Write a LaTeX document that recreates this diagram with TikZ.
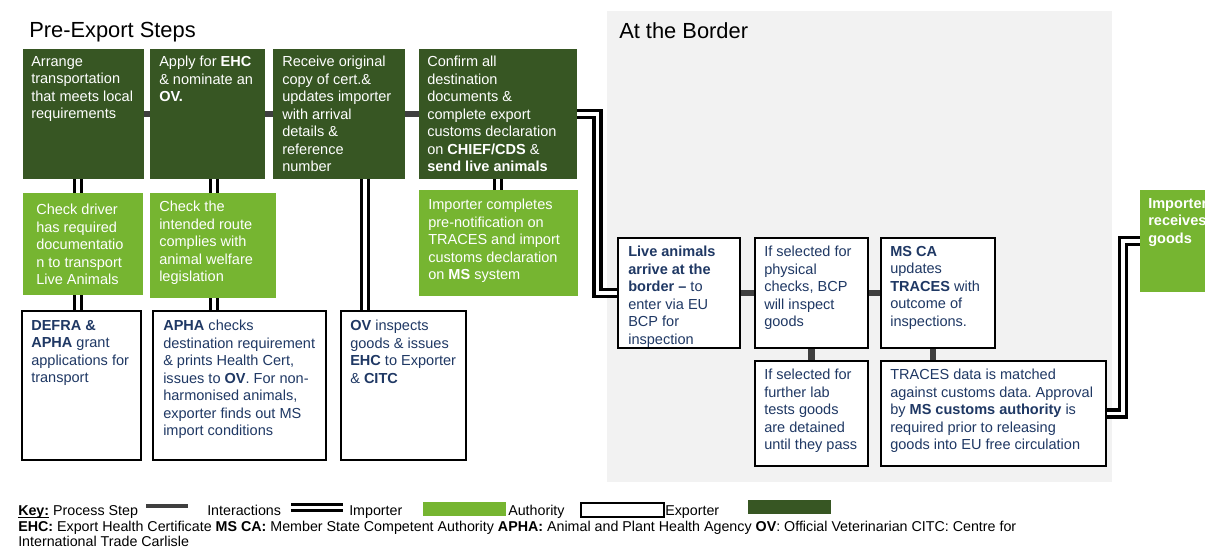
\documentclass[tikz,border=0pt]{standalone}
\usepackage{fontspec}
\setmainfont{Liberation Sans}
\usetikzlibrary{calc,backgrounds}
\frenchspacing

\definecolor{exportgreen}{HTML}{375623}
\definecolor{importgreen}{HTML}{76B531}
\definecolor{authnavy}{HTML}{1F3864}
\definecolor{borderbg}{HTML}{F2F2F2}
\definecolor{stepgray}{HTML}{3F3F3F}

\newcommand{\cellfont}{\fontsize{10.9}{13.1}\selectfont}
\newcommand{\headfont}{\fontsize{16.4}{19.7}\selectfont}
\newcommand{\keyfont}{\fontsize{10.7}{12}\selectfont}

\tikzset{
  box/.style 2 args={anchor=north west, inner sep=0pt, outer sep=0pt,
    minimum width=#1*0.75pt, minimum height=#2*0.75pt},
  exporter/.style={fill=exportgreen},
  importer/.style={fill=importgreen},
  authority/.style={fill=white, draw=black, line width=1.8pt},
  celltext/.style 2 args={anchor=north west, align=left, font=\cellfont,
    inner xsep=#1*0.75pt, inner ysep=#2*0.75pt},
  process/.style={draw=stepgray, line width=5pt},
  interact/.style={draw=black, line width=2.6pt, double=white, double distance=2.6pt},
  keytext/.style={anchor=base west, inner sep=0pt, font=\keyfont},
  swatch/.style={anchor=north west, inner sep=0pt, minimum width=83*0.75pt, minimum height=14*0.75pt}
}

\begin{document}
\begin{tikzpicture}[x=0.75pt, y=-0.75pt]
  \useasboundingbox (0,0) rectangle (1205,551);

  % Section titles
  \node[anchor=base west, inner sep=0pt, font=\headfont] (pretitle) at (29,37.5) {Pre-Export Steps};
  \node[anchor=base west, inner sep=0pt, font=\headfont] (bordertitle) at (619,38) {At the Border};

  % Exporter steps
  \node[box={121}{130}, exporter, label={[celltext={8}{7}, text=white]north west:{Arrange\\transportation\\that meets local\\requirements}}] (arrange) at (23,49) {};
  \node[box={115}{130}, exporter, label={[celltext={9}{7}, text=white]north west:{Apply for \textbf{EHC}\\\& nominate an\\\textbf{OV.}}}] (applyehc) at (150,49) {};
  \node[box={132}{130}, exporter, label={[celltext={9}{7}, text=white]north west:{Receive original\\copy of cert.\&\\updates importer\\with arrival\\details \&\\reference\\number}}] (receivecert) at (273,49) {};
  \node[box={158}{130}, exporter, label={[celltext={8}{7}, text=white]north west:{Confirm all\\destination\\documents \&\\complete export\\customs declaration\\on \textbf{CHIEF/CDS} \&\\\textbf{send live animals}}}] (confirmdocs) at (419,49) {};

  % Importer steps
  \node[box={120}{102}, importer, label={[celltext={13}{11}, text=white]north west:{Check driver\\has required\\documentatio\\n to transport\\Live Animals}}] (checkdriver) at (23,193) {};
  \node[box={126}{105}, importer, label={[celltext={9}{8}, text=white]north west:{Check the\\intended route\\complies with\\animal welfare\\legislation}}] (checkroute) at (150,193) {};
  \node[box={159}{106}, importer, label={[celltext={9}{9}, text=white]north west:{Importer completes\\pre-notification on\\TRACES and import\\customs declaration\\on \textbf{MS} system}}] (prenotify) at (419,190) {};
  \node[box={100}{102}, importer, label={[celltext={8}{8}, text=white]north west:{\textbf{Importer}\\\textbf{receives}\\\textbf{goods}}}] (receivegoods) at (1140,190) {};

  % Authority steps
  \node[box={119}{149}, authority, label={[celltext={9}{9}, text=authnavy]north west:{\textbf{DEFRA \&}\\\textbf{APHA} grant\\applications for\\transport}}] (defra) at (22,311) {};
  \node[box={173}{149}, authority, label={[celltext={10}{9}, text=authnavy]north west:{\textbf{APHA} checks\\destination requirement\\\& prints Health Cert,\\issues to \textbf{OV}. For non-\\harmonised animals,\\exporter finds out MS\\import conditions}}] (aphacheck) at (153,311) {};
  \node[box={125}{149}, authority, label={[celltext={9}{9}, text=authnavy]north west:{\textbf{OV} inspects\\goods \& issues\\\textbf{EHC} to Exporter\\\& \textbf{CITC}}}] (ovinspect) at (341,311) {};
  \node[box={122}{110}, authority, label={[celltext={10}{8}, text=authnavy]north west:{\textbf{Live animals}\\\textbf{arrive at the}\\\textbf{border –} to\\enter via EU\\BCP for\\inspection}}] (arrive) at (618,238) {};
  \node[box={113}{110}, authority, label={[celltext={9}{8}, text=authnavy]north west:{If selected for\\physical\\checks, BCP\\will inspect\\goods}}] (physcheck) at (755,238) {};
  \node[box={114}{110}, authority, label={[celltext={9}{8}, text=authnavy]north west:{\textbf{MS CA}\\updates\\\textbf{TRACES} with\\outcome of\\inspections.}}] (msca) at (881,238) {};
  \node[box={113}{105}, authority, label={[celltext={9}{8}, text=authnavy]north west:{If selected for\\further lab\\tests goods\\are detained\\until they pass}}] (labtest) at (755,361) {};
  \node[box={225}{105}, authority, label={[celltext={9}{8}, text=authnavy]north west:{TRACES data is matched\\against customs data. Approval\\by \textbf{MS customs authority} is\\required prior to releasing\\goods into EU free circulation}}] (tracesmatch) at (881,361) {};

  % Link columns
  \coordinate (driverlink) at (78,0);
  \coordinate (routelink) at (214,0);
  \coordinate (ovlink) at (365,0);
  \coordinate (tracelink) at (933,0);

  \begin{pgfonlayer}{background}
    \fill[borderbg] (607,11) rectangle (1112,482);

    % Process steps
    \draw[process] (arrange) -- (applyehc);
    \draw[process] (applyehc) -- (receivecert);
    \draw[process] (receivecert) -- (confirmdocs);
    \draw[process] (arrive) -- (physcheck);
    \draw[process] (physcheck) -- (msca);
    \draw[process] (physcheck) -- (labtest);
    \draw[process] (msca.south -| tracelink) -- (tracesmatch.north -| tracelink);

    % Interactions
    \draw[interact] (arrange.south -| driverlink) -- (defra.north -| driverlink);
    \draw[interact] (applyehc.south -| routelink) -- (aphacheck.north -| routelink);
    \draw[interact] (receivecert.south -| ovlink) -- (ovinspect.north -| ovlink);
    \draw[interact] (confirmdocs.south) -- (confirmdocs.south |- prenotify.north);
    \draw[interact] (confirmdocs.east) -| ($(confirmdocs.east)!.5!(arrive.west)$) |- (arrive.west);
    \draw[interact] (tracesmatch.east) -| ($(tracesmatch.east)!.5!(receivegoods.west)$) |- (receivegoods.west);
  \end{pgfonlayer}

  % Key
  \node[keytext] (keystep) at (18,515) {\underline{\smash{\textbf{Key:}}} Process Step};
  \draw[process, line width=3pt] (146,506) -- (188,506);
  \node[keytext] (keyinteract) at (207,515) {Interactions};
  \draw[interact, line width=2.4pt, double distance=2.4pt] (291,507.5) -- (343,507.5);
  \node[keytext] (keyimporter) at (349,515) {Importer};
  \node[swatch, fill=importgreen] (swimporter) at (423,502) {};
  \node[keytext] (keyauthority) at (508,515) {Authority};
  \node[swatch, fill=white, draw=black, line width=1.2pt] (swauthority) at (580,502) {};
  \node[keytext] (keyexporter) at (665,515) {Exporter};
  \node[swatch, fill=exportgreen] (swexporter) at (748,500) {};
  \node[keytext] (keyabbrev) at (18,531) {\textbf{EHC:} Export Health Certificate \textbf{MS CA:} Member State Competent Authority \textbf{APHA:} Animal and Plant Health Agency \textbf{OV}: Official Veterinarian CITC: Centre for};
  \node[keytext] (keyabbrevend) at (18,546) {International Trade Carlisle};
\end{tikzpicture}
\end{document}
